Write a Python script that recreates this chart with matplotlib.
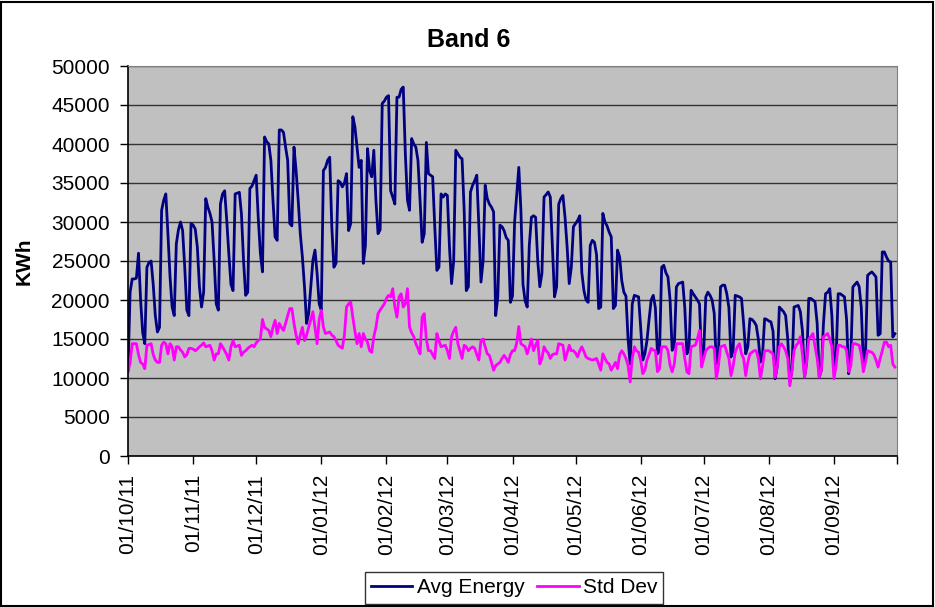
import matplotlib
matplotlib.use('Agg')
import matplotlib.pyplot as plt
import pandas as pd

# daily values from 01/10/11, one row per week (Sat .. Fri)
avg_energy = [
    11000, 21000, 22700, 22700, 22800, 26000, 20000,
    15800, 14400, 24200, 24800, 25000, 22000, 18000,
    15900, 16500, 31500, 32800, 33600, 28500, 23000,
    19100, 18000, 27200, 29000, 30000, 28900, 24200,
    18700, 18000, 29800, 29600, 29100, 26800, 21700,
    19100, 21000, 33000, 31900, 31100, 30000, 25100,
    19500, 18700, 32300, 33600, 34000, 30200, 25900,
    22000, 21200, 33600, 33700, 33800, 31000, 25000,
    20600, 21000, 34300, 34600, 35300, 36000, 30500,
    26000, 23600, 40900, 40300, 40000, 37900, 32800,
    28100, 27650, 41800, 41800, 41500, 39600, 37900,
    29800, 29500, 39600, 36600, 32800, 28500, 25500,
    21700, 17000, 18300, 21700, 25100, 26400, 23400,
    19500, 18700, 36600, 37000, 37900, 38300, 29400,
    24200, 24700, 35300, 35100, 34500, 35000, 36200,
    28900, 29800, 43500, 42200, 39600, 37000, 37900,
    24700, 27000, 39400, 36600, 35800, 39200, 32800,
    28500, 29000, 45200, 45500, 46000, 46200, 34000,
    33200, 32300, 46000, 46000, 47000, 47300, 38750,
    32800, 31500, 40700, 40000, 39600, 37900, 32800,
    27400, 28500, 40200, 36200, 36000, 35800, 29400,
    23800, 24200, 33600, 33200, 33600, 33400, 26800,
    22100, 25000, 39200, 38750, 38300, 38100, 31500,
    21200, 21700, 33850, 34700, 35300, 36000, 29400,
    22300, 25000, 34700, 33000, 32300, 31900, 31300,
    18000, 20400, 29600, 29400, 28900, 28000, 27650,
    19700, 20500, 30000, 33500, 37000, 31500, 22000,
    19900, 19100, 27000, 30600, 30800, 30600, 25100,
    21700, 23400, 33200, 33500, 33850, 33200, 26800,
    20400, 21700, 32300, 33000, 33400, 30600, 26800,
    22100, 24200, 29400, 29800, 30200, 30800, 23500,
    21200, 20000, 19700, 27000, 27650, 27400, 25800,
    18900, 19100, 31100, 30000, 29500, 28700, 28100,
    18900, 19300, 26400, 25500, 22500, 21000, 20500,
    15000, 11800, 19500, 20600, 20500, 20400, 16500,
    12300, 13100, 14800, 17500, 20000, 20600, 19000,
    13100, 13500, 24200, 24450, 23500, 22950, 20000,
    13550, 14000, 21670, 22100, 22200, 22300, 19000,
    13100, 13800, 21240, 20800, 20400, 20000, 19500,
    12270, 13300, 20400, 21000, 20600, 20000, 18300,
    11840, 13000, 21670, 21900, 21900, 20800, 19000,
    12700, 13500, 20600, 20500, 20400, 20200, 17000,
    13100, 14000, 17600, 17500, 17200, 16750, 15000,
    12050, 13000, 17600, 17500, 17300, 17200, 16000,
    9900, 11500, 19100, 18800, 18500, 18000, 15000,
    9500, 11000, 19100, 19200, 19300, 18500, 16000,
    10100, 12000, 20200, 20200, 20000, 19750, 17000,
    10100, 11000, 17000, 20800, 21000, 21450, 18000,
    11400, 12500, 20800, 20800, 20600, 20400, 17500,
    10550, 12500, 21670, 22000, 22300, 21700, 19000,
    11840, 13000, 23160, 23400, 23600, 23300, 22950,
    15470, 15680, 26160, 26160, 25500, 25000, 24870,
    15260, 15680,
]

std_dev = [
    10800, 12000, 14400, 14400, 14400, 13000, 12000,
    11800, 11200, 14200, 14300, 14400, 13000, 12300,
    12000, 12000, 14200, 14600, 14400, 13100, 14400,
    14000, 12300, 14000, 14000, 13600, 13300, 12700,
    13000, 13800, 13800, 13700, 13500, 13700, 14000,
    14200, 14500, 14000, 14100, 14200, 13500, 12300,
    13100, 13100, 14400, 14000, 13500, 13000, 12300,
    14000, 14800, 14000, 14100, 14200, 12900, 13300,
    13500, 13800, 14000, 14200, 14000, 14500, 14800,
    15000, 17500, 16500, 16300, 16100, 15300, 16500,
    17400, 15700, 17000, 16500, 16100, 17000, 18000,
    18900, 18900, 17000, 15500, 14400, 15500, 16500,
    14800, 15500, 16500, 17500, 18500, 16500, 14400,
    17500, 18700, 16500, 15700, 15800, 15900, 15500,
    15300, 14800, 14200, 14000, 13800, 15500, 19100,
    19500, 19750, 17800, 16000, 14400, 15700, 14000,
    15700, 15000, 14600, 13500, 13300, 15300, 16500,
    18250, 18700, 19100, 19500, 20200, 20600, 20400,
    21450, 19100, 17800, 20400, 20800, 19100, 19500,
    21450, 16500, 15800, 15300, 14400, 13800, 13100,
    17800, 18250, 15000, 13500, 13500, 13000, 12500,
    15700, 14800, 14000, 14100, 14200, 13500, 12500,
    15300, 16000, 16500, 14400, 13500, 12500, 14200,
    14000, 13500, 13800, 14000, 13800, 13000, 12300,
    14800, 15000, 14000, 13100, 12900, 12000, 11000,
    11600, 11800, 12000, 12500, 12900, 12500, 12000,
    13000, 13500, 13500, 14500, 16600, 14400, 14200,
    14000, 13100, 14000, 15000, 13500, 14200, 14800,
    11800, 12500, 14000, 13500, 13200, 12500, 13000,
    13100, 13100, 14400, 14300, 14200, 12300, 13200,
    14200, 13500, 13500, 13200, 12700, 13500, 14000,
    13400, 12700, 12500, 12400, 12300, 12400, 12500,
    11800, 11000, 13100, 12500, 12000, 11800, 11000,
    11500, 12000, 11200, 13000, 13500, 13100, 12500,
    11600, 9500, 12500, 14000, 13500, 13300, 12300,
    10550, 11000, 12300, 13000, 13800, 13600, 13500,
    10800, 11200, 14000, 14000, 14000, 13500, 11600,
    10800, 11800, 14400, 14400, 14400, 14400, 12500,
    10800, 10550, 14000, 14100, 14200, 15000, 16100,
    11400, 12500, 13500, 13800, 14000, 14000, 13800,
    9900, 11500, 14000, 14100, 14200, 13300, 12500,
    10300, 11500, 13300, 14000, 14400, 13100, 12500,
    10300, 12000, 13100, 13300, 13500, 13500, 12500,
    9900, 11500, 13500, 13500, 13500, 13300, 13100,
    10100, 11500, 14000, 14400, 14000, 13500, 12500,
    9000, 11000, 13500, 14200, 14500, 15300, 13000,
    10100, 12000, 15000, 15300, 15700, 14000, 12500,
    10100, 11000, 15300, 15500, 15700, 15000, 14000,
    9900, 11500, 14200, 14200, 14000, 14000, 13500,
    10800, 11500, 14400, 14400, 14300, 14200, 13000,
    10800, 12000, 13500, 13400, 13300, 13000, 12300,
    11400, 12500, 13500, 14600, 14600, 14000, 14200,
    11800, 11400,
]

days = pd.date_range('2011-10-01', periods=len(avg_energy), freq='D')
month_starts = pd.date_range('2011-10-01', '2012-10-01', freq='MS')
month_labels = [d.strftime('%d/%m/%y') for d in month_starts[:-1]] + ['']
y_ticks = list(range(0, 50001, 5000))

plt.rcParams['font.family'] = ['Liberation Sans', 'DejaVu Sans']

W, H = 935, 607
fig = plt.figure(figsize=(W / 100, H / 100), dpi=100)
ax = fig.add_axes([128 / W, 1 - 456 / H, (897 - 128) / W, (456 - 66) / H])
ax.set_facecolor('#c0c0c0')

ax.plot(days, avg_energy, color='#000080', lw=2.0, label='Avg Energy')
ax.plot(days, std_dev, color='#ff00ff', lw=2.0, label='Std Dev')

ax.set_xlim(month_starts[0], month_starts[-1])
ax.set_ylim(0, 50000)
ax.set_yticks(y_ticks)
ax.set_yticklabels([str(v) for v in y_ticks], fontsize=15)
ax.set_xticks(month_starts)
ax.set_xticklabels(month_labels, rotation=90, fontsize=15)
ax.tick_params(axis='both', direction='out', length=6, width=1, color='black')
ax.tick_params(axis='x', pad=7)
ax.tick_params(axis='y', pad=7)

ax.yaxis.grid(True, color='#333333', lw=1)
ax.set_axisbelow(True)
for side in ('top', 'right'):
    ax.spines[side].set_color('#808080')
for side in ('left', 'bottom'):
    ax.spines[side].set_color('black')
    ax.spines[side].set_linewidth(1.2)

ax.set_ylabel('KWh', fontsize=15, fontweight='bold')
ax.yaxis.set_label_coords(-0.123, 0.5)
fig.text(469 / W, 1 - 40 / H, 'Band 6', ha='center', va='center',
         fontsize=18, fontweight='bold')

leg = fig.legend(loc='upper center', bbox_to_anchor=(514 / W, 1 - 572 / H),
                 ncol=2, fontsize=15, frameon=True, fancybox=False,
                 edgecolor='black', handlelength=2.0, handletextpad=0.2,
                 columnspacing=0.6, borderpad=0.3, borderaxespad=0)
leg.get_frame().set_linewidth(1)

fig.add_artist(plt.Rectangle((0.001, 0.001), 0.997, 0.996, transform=fig.transFigure,
                             fill=False, ec='black', lw=1.5))

fig.savefig('out.png', dpi=100, facecolor='white')
